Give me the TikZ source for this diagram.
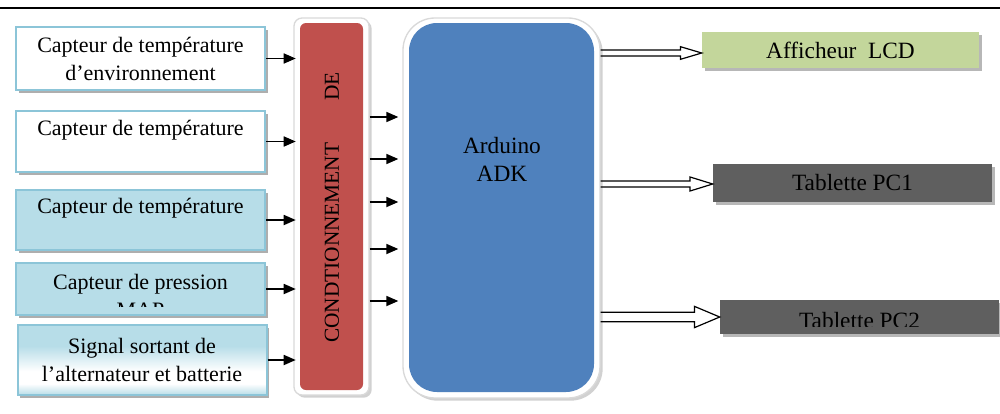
\documentclass[tikz,border=0pt]{standalone}
\usepackage{fontspec}
\setmainfont{Liberation Serif}
\usetikzlibrary{positioning}
\usetikzlibrary{arrows.meta}
\usetikzlibrary{shadows}
\usetikzlibrary{calc}

\definecolor{sensorline}{HTML}{8CC5D8}
\definecolor{sensorblue}{HTML}{B7DDE8}
\definecolor{condred}{HTML}{C0504D}
\definecolor{ardblue}{HTML}{4F81BD}
\definecolor{lcdgreen}{HTML}{C3D69B}
\definecolor{pcgrey}{HTML}{5F5F5F}
\definecolor{frameline}{HTML}{D9D9D9}

% blue, white band near the bottom, blue again at the edge
\pgfdeclareverticalshading{signalshade}{100bp}{color(0bp)=(sensorblue); color(25bp)=(sensorblue); color(33bp)=(white); color(42bp)=(white); color(60bp)=(sensorblue); color(100bp)=(sensorblue)}

\begin{document}
\begin{tikzpicture}[x=0.75pt,y=-0.75pt,
sensor/.style={
	% The shape:
	rectangle,
	% The size:
	minimum width=186.75pt, inner sep=0pt,
	% The border:
	line width=1.5pt, draw=sensorline,
	% The shadow:
	drop shadow={shadow xshift=2pt,shadow yshift=-2pt,fill=black!45,opacity=.7},
	% Font
	align=center, font=\fontsize{16.5}{21}\selectfont},
outbox/.style={
	% The shape:
	rectangle, inner sep=0pt,
	% The shadow:
	drop shadow={shadow xshift=2pt,shadow yshift=-2pt,fill=black!40,opacity=.7},
	% Font
	font=\fontsize{17.5}{21}\selectfont},
frame/.style={
	rectangle, inner sep=0pt,
	fill=white, draw=frameline, line width=1pt,
	drop shadow={shadow xshift=2pt,shadow yshift=-2pt,fill=black!30,opacity=.6}},
wire/.style={line width=1.3pt, shorten >=3pt, -{Triangle[length=9pt,width=7.5pt]}},
% hollow arrow: gap / head length / head width
bus/.style args={#1/#2/#3}{line width=0.9pt, to path={
	let \p1=(\tikztostart), \p2=(\tikztotarget) in
	(\x1,\y2+#1/2) -- (\x2-#2,\y2+#1/2) -- (\x2-#2,\y2+#3/2) -- (\x2,\y2)
	-- (\x2-#2,\y2-#3/2) -- (\x2-#2,\y2-#1/2) -- (\x1,\y2-#1/2)}},
]
\useasboundingbox (0,0) rectangle (1000,414);

% rule at the top of the page
\draw[line width=1.5pt] (0,7.5) -- (1000,7.5);

% sensors
\node (s1) [sensor, fill=white, minimum height=47.25pt] at (140.5,58.5)
	{Capteur de température\\d’environnement};
\node (s2) [sensor, fill=white, minimum height=45.75pt] at (140.5,141.5)
	{Capteur de température\\\mbox{}};
\node (s3) [sensor, fill=sensorblue, minimum height=45pt] at (140.5,220)
	{Capteur de température\\\mbox{}};
\node (s4) [sensor, fill=sensorblue, minimum height=39pt] at (140.5,289) {};
\begin{scope}
\clip (16,263) rectangle (265,306);
\node (s4txt) [align=center, font=\fontsize{16.5}{21}\selectfont] at (140.5,296)
	{Capteur de pression\\MAP};
\end{scope}
\node (s5) [sensor, shading=signalshade, minimum height=52.5pt] at (142,360)
	{Signal sortant de\\l’alternateur et batterie};

% conditioning
\node (condbg) [frame, minimum width=56.25pt, minimum height=282.75pt,
	rounded corners=6pt] at (331.5,206.5) {};
\node (cond) [rectangle, fill=condred, minimum width=47.25pt,
	minimum height=275.25pt, rounded corners=4.5pt] at (331.5,206.5) {};
\node (condtxt) [rotate=90, font=\fontsize{16}{21}\selectfont] at (332,207.5)
	{CONDTIONNEMENT\hspace{31.5pt}DE};

% arduino
\node (ardbg) [frame, minimum width=147.75pt, minimum height=285pt,
	rounded corners=24pt] at (501.5,208) {};
\node (ard) [rectangle, fill=ardblue, minimum width=138.75pt,
	minimum height=276.75pt, rounded corners=21pt] at (501.5,207.5) {};
\node (ardtxt) [align=center, font=\fontsize{17.5}{21}\selectfont] at (502,159)
	{Arduino\\ADK};

% outputs
\node (lcd) [outbox, fill=lcdgreen, minimum width=207.75pt, minimum height=27pt]
	at (840.5,50) {Afficheur\ \ LCD};
\node (pc1) [outbox, fill=pcgrey, minimum width=209.25pt, minimum height=28.5pt]
	at (852.5,183) {Tablette PC1};
\node (pc2) [outbox, fill=pcgrey, minimum width=209.25pt, minimum height=25.5pt]
	at (859.5,317) {};
\begin{scope}
\clip (720,300) rectangle (999,326.5);
\node (pc2txt) [anchor=base, font=\fontsize{17.5}{21}\selectfont] at (859.5,328)
	{Tablette PC2};
\end{scope}

% links
\foreach \s in {s1,s2,s3,s4,s5}
	\draw[wire] (\s.east) -- (\s.east -| cond.west);
\foreach \yy in {117,159,202,249,301}
	\draw[wire] (condbg.east |- 0,\yy) -- (ardbg.west |- 0,\yy);
\draw[bus=4.5pt/16pt/9.5pt] (ardbg.east |- 0,53) to ([yshift=-2.25pt]lcd.west);
\draw[bus=4.5pt/17pt/10.5pt] (ardbg.east |- 0,184) to ([yshift=-0.75pt]pc1.west);
\draw[bus=7pt/19pt/16pt] (ardbg.east |- pc2) to (pc2.west);
\end{tikzpicture}
\end{document}
